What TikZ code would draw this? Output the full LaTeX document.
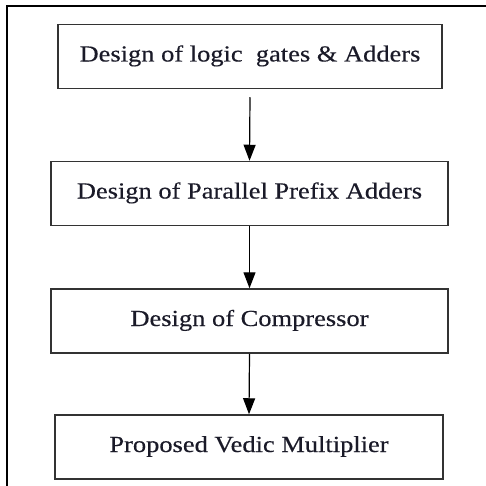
\documentclass[tikz,border=0pt]{standalone}
\usepackage{fontspec}
\setmainfont[FakeStretch=1.15,FakeBold=0.4]{Liberation Serif}
\usetikzlibrary{arrows.meta}
\definecolor{boxline}{HTML}{333333}
\definecolor{txt}{HTML}{1A1A28}
\tikzset{
  stagebox/.style={draw=boxline, line width=1.5pt, rectangle, inner xsep=0pt, inner ysep=0pt,
    text height=37pt, text depth=27pt, font=\fontsize{23}{26}\selectfont, text=txt},
  flowarrow/.style={draw=black, line width=1.2pt, -{Triangle[length=16pt,width=12pt]}}
}
\begin{document}
\begin{tikzpicture}[x=1pt,y=-1pt]
\useasboundingbox (0,0) rectangle (485,486);
\draw[line width=2.2pt] (7,487) -- (7,6) -- (486,6);
\node[stagebox, minimum width=384pt] (b1) at (250,56.5) {Design of logic\ \ gates \& Adders};
\node[stagebox, minimum width=397pt] (b2) at (249.5,193.5) {Design of Parallel Prefix Adders};
\node[stagebox, minimum width=397pt] (b3) at (249.5,321) {Design of Compressor};
\node[stagebox, minimum width=388pt] (b4) at (249,447) {Proposed Vedic Multiplier};
\draw[flowarrow] ([yshift=-8pt]b1.south) -- (b2.north);
\draw[flowarrow] (b2.south) -- (b3.north);
\draw[flowarrow] (b3.south) -- (b4.north);
\end{tikzpicture}
\end{document}
